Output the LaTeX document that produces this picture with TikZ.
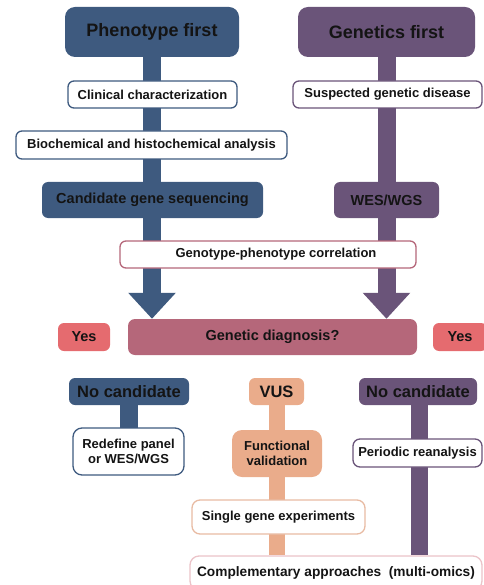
\documentclass[tikz,border=0pt]{standalone}
\usepackage{fontspec}
\setmainfont{Liberation Sans}
\usetikzlibrary{arrows.meta,backgrounds}
\definecolor{pblue}{HTML}{3E5A7F}
\definecolor{gpurple}{HTML}{6A5479}
\definecolor{drose}{HTML}{B5677A}
\definecolor{salmon}{HTML}{E56B6F}
\definecolor{peach}{HTML}{EAAC8B}
\definecolor{peachline}{HTML}{E8BBA3}
\definecolor{pinkline}{HTML}{EBC3C8}
\definecolor{ink}{HTML}{141414}
\begin{document}
\begin{tikzpicture}[x=1pt,y=-1pt,
  box/.style={rounded corners=6pt, inner sep=0pt, align=center, text=ink,
    font=\bfseries\fontsize{13}{15}\selectfont},
  solidbox/.style={box, fill=#1},
  outlinebox/.style={box, draw=#1, fill=white, line width=1.3pt},
  titlebox/.style={rounded corners=10pt, fill=#1, inner sep=0pt, text=ink,
    font=\bfseries\fontsize{18}{20}\selectfont},
  midfont/.style={font=\bfseries\fontsize{14.5}{16}\selectfont},
  bigfont/.style={font=\bfseries\fontsize{16.5}{18}\selectfont},
  stem/.style={draw=#1, line width=18pt},
  bigarrow/.style={stem=#1, -{Triangle[width=46pt,length=26pt]}}
]
\useasboundingbox (0,0) rectangle (483,585);

% two entry points
\node[titlebox=pblue, minimum width=174pt, minimum height=50pt] (pheno) at (152,32) {Phenotype first};
\node[titlebox=gpurple, minimum width=177pt, minimum height=50pt] (genet) at (386.5,32) {Genetics first};

% phenotype-first track
\node[outlinebox=pblue, minimum width=169pt, minimum height=27pt] (clin) at (152.5,94.5) {Clinical characterization};
\node[outlinebox=pblue, minimum width=271pt, minimum height=28pt] (bio) at (151.5,145) {Biochemical and histochemical analysis};
\node[solidbox=pblue, midfont, minimum width=221pt, minimum height=36pt] (cand) at (152.5,200) {Candidate gene sequencing};

% genetics-first track
\node[outlinebox=gpurple, minimum width=189pt, minimum height=27pt] (susp) at (387.5,94.5) {Suspected genetic disease};
\node[solidbox=gpurple, midfont, minimum width=105pt, minimum height=36pt] (wes) at (386.5,200) {WES/WGS};

% shared steps
\node[outlinebox=drose, minimum width=296pt, minimum height=27pt] (geno) at (268,254.5) {\hspace*{16pt}Genotype-phenotype correlation};
\node[solidbox=drose, midfont, rounded corners=7pt, minimum width=289pt, minimum height=36pt] (diag) at (272.5,337) {Genetic diagnosis?};
\node[solidbox=salmon, midfont, minimum width=52pt, minimum height=28pt] (yesl) at (84,337) {Yes};
\node[solidbox=salmon, midfont, minimum width=54pt, minimum height=28pt] (yesr) at (460,337) {Yes};

% outcomes
\node[solidbox=pblue, bigfont, minimum width=120pt, minimum height=27pt] (nocl) at (129,391.5) {No candidate};
\node[solidbox=peach, bigfont, minimum width=55pt, minimum height=27pt] (vus) at (276.5,391.5) {VUS};
\node[solidbox=gpurple, bigfont, minimum width=118pt, minimum height=27pt] (nocr) at (418,391.5) {No candidate};

\node[outlinebox=pblue, rounded corners=9pt, minimum width=111pt, minimum height=47pt] (redef) at (128.5,451.5) {Redefine panel\\or WES/WGS};
\node[solidbox=peach, rounded corners=10pt, minimum width=90pt, minimum height=47pt] (func) at (277,453.5) {Functional\\validation};
\node[outlinebox=gpurple, rounded corners=7pt, minimum width=129pt, minimum height=28pt] (period) at (417.5,453) {Periodic reanalysis};
\node[outlinebox=peachline, rounded corners=8pt, minimum width=173pt, minimum height=34pt] (single) at (278.5,517) {Single gene experiments};
\node[outlinebox=pinkline, rounded corners=9pt, font=\bfseries\fontsize{13.7}{15}\selectfont, minimum width=292pt, minimum height=34pt] (comp) at (336,573) {Complementary approaches~ (multi-omics)};

% vertical stems behind the boxes
\begin{scope}[on background layer]
  \draw[bigarrow=pblue] (pheno.center) -- (pheno.center |- diag.north);
  \draw[bigarrow=gpurple] (genet.center) -- (genet.center |- diag.north);
  \draw[stem=pblue] (nocl.center) -- (nocl.center |- redef.center);
  \draw[stem=peach, line width=16pt] (func.center |- vus.center) -- (func.center |- comp.north);
  \draw[stem=gpurple, line width=17pt] ([xshift=1.5pt]nocr.center) -- ([xshift=1.5pt]nocr.center |- comp.north);
\end{scope}
\end{tikzpicture}
\end{document}
